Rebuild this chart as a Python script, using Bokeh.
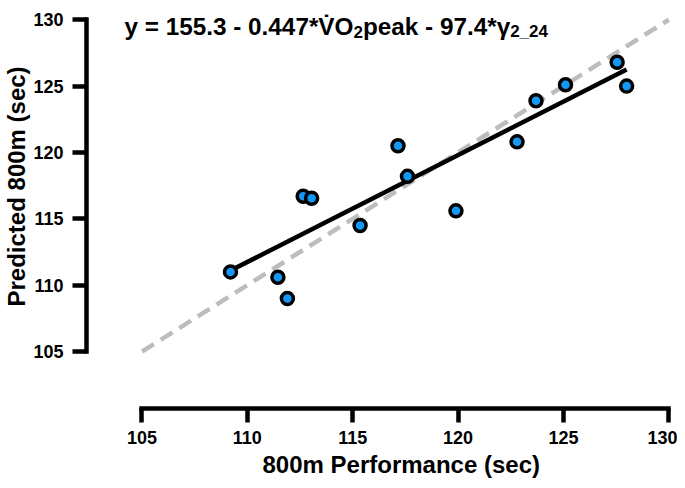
from bokeh.plotting import figure
from bokeh.models import Label, FixedTicker, Title
from bokeh.embed import file_html
from bokeh.resources import INLINE

# ---- data ----
actual = [109.2, 111.45, 111.9, 112.65, 113.05, 115.35, 117.15, 117.6, 119.9, 122.8, 123.7, 125.1, 127.55, 128.0]
predicted = [111.0, 110.6, 109.0, 116.7, 116.55, 114.5, 120.5, 118.2, 115.6, 120.8, 123.9, 125.1, 126.8, 125.0]
fit_x = [109.2, 128.0]
fit_y = [111.1, 126.25]
identity = [105, 130]
ticks = [105, 110, 115, 120, 125, 130]
x_label = "800m Performance (sec)"
y_label = "Predicted 800m (sec)"

FONT = "Liberation Sans"

p = figure(width=677, height=488, output_backend="svg", toolbar_location=None,
           x_range=(102.366, 130.178), y_range=(100.705, 130.85),
           min_border_left=86, min_border_right=5, min_border_top=8, min_border_bottom=80)
p.outline_line_color = None
p.grid.visible = False
p.background_fill_color = "white"

for ax in (p.xaxis[0], p.yaxis[0]):
    ax.bounds = (105, 130)
    ax.ticker = FixedTicker(ticks=ticks)
    ax.axis_line_width = 4.5
    ax.axis_line_cap = "square"
    ax.major_tick_line_width = 4.5
    ax.major_tick_out = 14
    ax.major_tick_in = 0
    ax.minor_tick_line_color = None
    ax.major_label_text_font = FONT
    ax.major_label_text_font_style = "bold"
    ax.major_label_text_font_size = "18px"
    ax.major_label_text_color = "black"
p.xaxis.major_label_standoff = 8
p.yaxis.major_label_standoff = 9

p.line(identity, identity, line_color="#bdbdbd", line_width=4.5, line_dash="14 8")
p.line(fit_x, fit_y, line_color="black", line_width=4.5)
p.scatter(actual, predicted, size=12, fill_color="#1398F5", line_color="black", line_width=3.5)

# ---- axis labels as side titles ----
p.add_layout(Title(text=x_label, text_font=FONT, text_font_style="bold", text_font_size="24px",
                   align="left", offset=176, standoff=4, text_color="black"), "below")
p.add_layout(Title(text=y_label, text_font=FONT, text_font_style="bold", text_font_size="24px",
                   align="left", offset=102, standoff=1, text_color="black"), "left")

# ---- title with subscripts ----
def px_to_x(px):
    return 105 + (px - 141.5) / 21.07

def py_to_y(py):
    return 105 + (351 - py) / 13.27

W = {'y': 556, ' ': 278, '=': 584, '1': 556, '5': 556, '.': 278, '3': 556, '-': 333, '0': 556,
     '4': 556, '7': 556, '*': 389, 'V': 667, '\u0307': 0, 'O': 778, 'p': 611, 'e': 556, 'a': 556,
     'k': 556, '9': 556, '\u03b3': 556, '2': 556, '_': 556}

def width(s, size):
    return sum(W.get(c, 556) for c in s) * size / 1000.0

pieces = [("y = 155.3 - 0.447*V\u0307O", 24.3, 0), ("2", 17, -5),
          ("peak - 97.4*\u03b3", 24.3, 0), ("2_24", 17, -5)]
x0 = px_to_x(124)
y0 = py_to_y(26)
off = 0.0
for txt, sz, dy in pieces:
    p.add_layout(Label(x=x0, y=y0, x_offset=off, y_offset=dy, text=txt, text_font=FONT,
                       text_font_style="bold", text_font_size=f"{sz}px", text_align="left",
                       text_baseline="alphabetic", text_color="black"))
    off += width(txt, sz)

open("out.html", "w").write(file_html(p, INLINE))
